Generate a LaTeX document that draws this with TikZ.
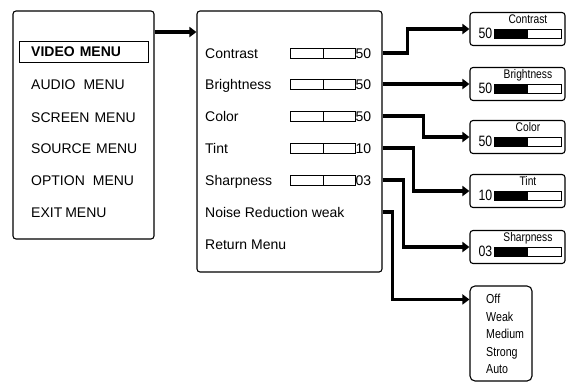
\documentclass[tikz,border=0pt]{standalone}
\usepackage{fontspec}
\setmainfont{Liberation Sans}
\newfontfamily\condfont[FakeStretch=0.82]{Liberation Sans}
\usetikzlibrary{arrows.meta,calc}
\tikzset{
  box/.style={draw, line width=1.1pt, rounded corners=3pt, inner sep=0pt},
  conn/.style={line width=3.4pt, -{Triangle[length=7pt,width=10pt]}},
  txt/.style={anchor=west, inner sep=0pt, text height=10pt, text depth=0pt, font=\fontsize{14}{16}\selectfont},
  smalltxt/.style={inner sep=0pt, text height=9pt, text depth=0pt, font=\condfont\fontsize{12.5}{14}\selectfont},
  valtxt/.style={anchor=west, inner sep=0pt, text height=10.7pt, text depth=0pt, font=\condfont\fontsize{15}{17}\selectfont},
  opttxt/.style={anchor=west, inner sep=0pt, text height=8.5pt, text depth=0pt, font=\condfont\fontsize{13}{15}\selectfont},
  slider/.style={draw, line width=0.8pt},
}
\begin{document}
\begin{tikzpicture}[x=1pt,y=-1pt]
\useasboundingbox (0,0) rectangle (568,384);
% left menu
\node[box, minimum width=141pt, minimum height=228pt] (menu) at (83.5,125) {};
\node[draw, line width=1pt, minimum width=129pt, minimum height=21pt, inner sep=0pt] (sel) at (83.5,51.5) {};
\node[txt, font=\fontsize{14}{16}\selectfont\bfseries] (m1) at (31,51.5) {VIDEO\hspace{5pt}MENU};
\node[txt] (m2) at (31,84) {AUDIO\hspace{8pt}MENU};
\node[txt] (m3) at (31,117) {SCREEN\hspace{5pt}MENU};
\node[txt] (m4) at (31,148) {SOURCE\hspace{5pt}MENU};
\node[txt] (m5) at (31,180) {OPTION\hspace{8pt}MENU};
\node[txt] (m6) at (31,212) {EXIT\hspace{3pt}MENU};
% middle menu
\node[box, minimum width=185pt, minimum height=261pt] (mid) at (289.5,141.5) {};
\draw[conn] (menu.east |- 0,32) -- (mid.west |- 0,32);
\foreach \i/\y/\t/\v in {1/53/Contrast/50, 2/84/Brightness/50, 3/116/Color/50, 4/148/Tint/10, 5/180/Sharpness/03} {
  \node[txt] (r\i) at (205,\y) {\t};
  \draw[slider] (290,\y-5) rectangle (355,\y+5);
  \draw[slider] (323,\y-5) -- (323,\y+5);
  \node[txt] (v\i) at (355.5,\y) {\v};
}
\node[txt] (r6) at (205,212) {Noise Reduction weak};
\node[txt] (r7) at (205,244) {Return Menu};
% right boxes
\foreach \n/\cy/\lab/\val in {rb1/29/Contrast/50, rb2/84/Brightness/50, rb3/137/Color/50, rb4/191/Tint/10, rb5/247/Sharpness/03} {
  \node[box, minimum width=95pt, minimum height=33pt] (\n) at (517.5,\cy) {};
  \node[smalltxt] (\n-l) at ($(\n.north west)+(58.5,7.5)$) {\lab};
  \node[valtxt] (\n-v) at ($(\n.north west)+(9,21)$) {\val};
  \draw[line width=0.8pt] ($(\n.north west)+(25,17)$) rectangle ($(\n.north west)+(92,26)$);
  \fill ($(\n.north west)+(25,17)$) rectangle ($(\n.north west)+(59,26)$);
}
% options box
\node[box, rounded corners=5pt, minimum width=62pt, minimum height=95pt] (opt) at (501,333.5) {};
\foreach \i/\y/\t in {1/299/Off, 2/317/Weak, 3/334/Medium, 4/352/Strong, 5/369/Auto} {
  \node[opttxt] (o\i) at (486,\y) {\t};
}
\coordinate (optin) at ($(opt.north west)+(0,14)$);
% connectors
\draw[conn] (mid.east |- v1) -- ++(25,0) |- (rb1.west);
\draw[conn] (mid.east |- v2) -- (rb2.west |- v2);
\draw[conn] (mid.east |- v3) -- ++(41,0) |- (rb3.west);
\draw[conn] (mid.east |- v4) -- ++(31,0) |- (rb4.west);
\draw[conn] (mid.east |- v5) -- ++(21,0) |- (rb5.west);
\draw[conn] (mid.east |- r6) -- ++(10,0) |- (optin);
\end{tikzpicture}
\end{document}
